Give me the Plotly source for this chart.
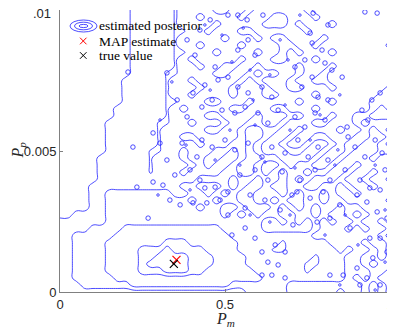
import plotly.graph_objects as go

# Grid of the estimated posterior (P_m along columns, P_p along rows)
pm_grid = [0.0, 0.025, 0.05, 0.075, 0.1, 0.125, 0.15, 0.175, 0.2, 0.225,
           0.25, 0.275, 0.3, 0.325, 0.35, 0.375, 0.4, 0.425, 0.45, 0.475,
           0.5, 0.525, 0.55, 0.575, 0.6, 0.625, 0.65, 0.675, 0.7, 0.725,
           0.75, 0.775, 0.8, 0.825, 0.85, 0.875, 0.9, 0.925, 0.95, 0.975, 1.0]
pp_grid = [0.0, 0.00025, 0.0005, 0.00075, 0.001, 0.00125, 0.0015, 0.00175,
           0.002, 0.00225, 0.0025, 0.00275, 0.003, 0.00325, 0.0035, 0.00375,
           0.004, 0.00425, 0.0045, 0.00475, 0.005, 0.00525, 0.0055, 0.00575,
           0.006, 0.00625, 0.0065, 0.00675, 0.007, 0.00725, 0.0075, 0.00775,
           0.008, 0.00825, 0.0085, 0.00875, 0.009, 0.00925, 0.0095, 0.00975, 0.01]

# Posterior level per cell, rows from P_p = .01 down to 0.
# r = thin ridge just above level 1.5, c = dip just below level 1.5
level_codes = {"0": 0.0, "1": 1.0, "2": 2.0, "3": 3.0, "4": 4.0, "5": 5.0,
               "r": 1.6, "c": 1.3}
posterior_rows = [
    "00000 00001 1111r 11112 21121 11111 21111 11111 1",  # .01
    "00000 00001 1111r 11211 11211 12211 12111 11111 1",
    "00000 00001 1111r 11112 11111 22212 11121 11111 1",
    "00000 00001 1111r r1121 11221 11111 21111 11111 1",
    "00000 00001 1111r 11111 21112 12211 11211 11111 1",
    "00000 00001 1111r 11211 11211 11221 12111 11111 2",
    "00000 00001 1111r r1112 11112 11212 11121 11111 1",
    "00000 00001 1111r 12111 11211 12211 12111 11111 1",
    "00000 00001 1111r 11211 22112 11112 11121 11111 1",
    "00000 00001 111rr 11112 21121 22112 11211 11111 1",
    "00000 00011 111r1 12111 11212 11121 12211 11111 1",
    "00000 00011 111r1 11211 12111 21122 11121 11111 2",
    "00000 00011 111r1 12111 12111 22111 12111 11112 2",
    "00000 00011 111rr 11122 11121 11112 11121 11122 2",
    "00000 00111 111r1 21111 12211 12211 12111 11121 2",
    "00000 00111 111r1 11122 11112 11122 11121 12211 1",
    "00000 01111 11rr1 12111 21122 11211 12211 12122 2",
    "00000 01111 11r11 11122 11211 22112 11112 11212 1",
    "00000 01111 11r11 22111 11211 21121 12211 12211 2",
    "00000 01111 11r11 11211 12212 11211 21121 22112 1",
    "00000 01111 1rr11 21112 21212 11122 11211 21112 2",  # .005
    "00000 11111 1r111 21122 11211 22111 12112 11121 1",
    "00000 11111 1r111 12121 12112 11212 21121 12111 1",
    "00000 11111 1r111 21111 22112 12122 12211 21121 1",
    "00000 11111 11111 11222 21221 22121 21112 11211 2",
    "00001 11111 11111 22111 21211 21122 11221 21121 1",
    "00001 12222 22221 12212 12112 22121 22121 12111 1",
    "00001 12222 22222 21221 22112 21211 22122 11111 2",
    "00001 12222 22222 22122 11211 12121 21221 22111 1",
    "00111 12222 22222 22222 12121 22112 21211 21211 1",
    "11111 12222 22222 22222 22222 11212 12121 12112 1",
    "11112 22233 33333 33333 22222 11111 12111 21211 2",
    "11222 22333 33333 33333 32222 22222 21111 11112 1",
    "11222 23333 33344 43333 33222 22c22 22211 11211 2",
    "11222 23333 44454 44433 33222 2cc22 22221 21121 2",
    "11222 23333 44555 54443 33322 22222 2c222 11221 2",
    "11222 23333 45555 54443 33322 22222 cc222 11212 2",
    "11222 23333 44455 54433 33332 22222 c2222 11122 1",
    "11222 22333 33333 33333 33333 22222 22222 12121 1",
    "11122 22223 33333 33333 32222 22211 11111 11212 1",
    "11111 11111 11111 11111 11122 22211 11112 11212 1",  # 0
]
contour_levels = [0.5, 1.5, 2.5, 3.5, 4.5]

# Small closed contours (sampling-noise islands)
speckle_pm = [
    0.509, 0.539, 0.567, 0.615, 0.767, 0.812, 0.758, 0.570,
    0.539, 0.591, 0.712, 0.742, 0.764, 0.794, 0.803, 0.824,
    0.855, 0.470, 0.479, 0.509, 0.539, 0.570, 0.612, 0.642,
    0.733, 0.764, 0.782, 0.812, 0.430, 0.461, 0.491, 0.530,
    0.561, 0.600, 0.630, 0.661, 0.712, 0.742, 0.773, 0.803,
    0.870, 0.430, 0.461, 0.500, 0.530, 0.570, 0.612, 0.642,
    0.682, 0.721, 0.752, 0.782, 0.812, 0.873, 0.894, 0.924,
    0.955, 0.976, 0.961, 0.924, 0.970, 0.945, 0.915, 0.933,
    0.206, 0.221, 0.282, 0.324, 0.385, 0.355, 0.385, 0.403,
    0.370, 0.415, 0.324, 0.303, 0.424, 0.455, 0.409, 0.439,
    0.282, 0.312, 0.233, 0.348, 0.394, 0.424, 0.333, 0.364,
    0.403, 0.445, 0.485, 0.267,
    0.439, 0.470, 0.509, 0.561, 0.509, 0.521, 0.561, 0.591,
    0.612, 0.652, 0.682, 0.630, 0.661, 0.612, 0.642, 0.682,
    0.718, 0.758, 0.797, 0.848, 0.900, 0.939, 0.970, 0.930,
    0.961, 0.991, 0.706, 0.779, 0.818, 0.879, 0.939, 0.970,
    0.991, 0.948, 0.900, 0.858, 0.930, 0.970, 0.909, 0.818,
    0.545, 0.591, 0.630, 0.673, 0.576, 0.621, 0.667, 0.703,
    0.727, 0.773, 0.818, 0.864, 0.909, 0.985,
]
speckle_pp = [
    0.00982, 0.00982, 0.00965, 0.00982, 0.00989, 0.00947, 0.00918, 0.00894,
    0.00858, 0.00840, 0.00798, 0.00823, 0.00883, 0.00858, 0.00812, 0.00787,
    0.00762, 0.00798, 0.00752, 0.00762, 0.00727, 0.00706, 0.00727, 0.00691,
    0.00727, 0.00762, 0.00691, 0.00681, 0.00656, 0.00681, 0.00645, 0.00635,
    0.00656, 0.00635, 0.00599, 0.00645, 0.00621, 0.00585, 0.00635, 0.00610,
    0.00585, 0.00539, 0.00514, 0.00539, 0.00504, 0.00528, 0.00479, 0.00514,
    0.00493, 0.00539, 0.00479, 0.00514, 0.00468, 0.00550, 0.00514, 0.00479,
    0.00539, 0.00493, 0.00989, 0.00993, 0.00706, 0.00681, 0.00645, 0.00610,
    0.00780, 0.00514, 0.00564, 0.00777, 0.00894, 0.00681, 0.00621, 0.00706,
    0.00528, 0.00479, 0.00468, 0.00528, 0.00929, 0.00965, 0.00840, 0.00734,
    0.00390, 0.00379, 0.00372, 0.00415, 0.00433, 0.00397, 0.00326, 0.00309,
    0.00316, 0.00316, 0.00326, 0.00262,
    0.00369, 0.00372, 0.00355, 0.00298, 0.00273, 0.00202, 0.00227, 0.00191,
    0.00142, 0.00167, 0.00142, 0.00106, 0.00096, 0.00060, 0.00060, 0.00050,
    0.00355, 0.00333, 0.00355, 0.00309, 0.00344, 0.00369, 0.00362, 0.00319,
    0.00284, 0.00262, 0.00238, 0.00248, 0.00262, 0.00227, 0.00191, 0.00191,
    0.00142, 0.00121, 0.00085, 0.00060, 0.00050, 0.00025, 0.00025, 0.00060,
    0.00415, 0.00433, 0.00397, 0.00426, 0.00344, 0.00326, 0.00291, 0.00344,
    0.00397, 0.00433, 0.00397, 0.00433, 0.00397, 0.00433,
]
# tiniest islands
dot_pm = [
    0.439, 0.491, 0.555, 0.667, 0.727, 0.691, 0.636, 0.576,
    0.521, 0.455, 0.585, 0.682, 0.848, 0.788, 0.515, 0.591,
    0.697, 0.758, 0.842, 0.470, 0.545, 0.621, 0.712, 0.833,
    0.955, 0.576, 0.636, 0.697, 0.803, 0.864, 0.985, 0.903,
    0.985, 0.848, 0.955, 0.394, 0.297, 0.339, 0.303, 0.382,
]
dot_pp = [
    0.00947, 0.00911, 0.00936, 0.00894, 0.00982, 0.00823, 0.00770, 0.00787,
    0.00816, 0.00716, 0.00681, 0.00663, 0.00699, 0.00628, 0.00574, 0.00592,
    0.00574, 0.00539, 0.00504, 0.00468, 0.00450, 0.00461, 0.00440, 0.00450,
    0.00450, 0.00273, 0.00248, 0.00273, 0.00202, 0.00273, 0.00291, 0.00167,
    0.00106, 0.00025, 0.00007, 0.00362, 0.00344, 0.00745, 0.00610, 0.00521,
]

map_estimate = (0.353, 0.00114)
true_value = (0.345, 0.00100)

x_tickvals = [0, 0.5, 1]
x_ticktext = ["0", "0.5", "1"]
y_tickvals = [0, 0.005, 0.01]
y_ticktext = ["0", "0.005", ""]   # the top label ".01" is placed as text just below the page edge
y_top_label = ".01"

legend_labels = ["estimated posterior", "MAP estimate", "true value"]

# ---- build grid ----
z = []
for row in reversed(posterior_rows):
    s = row.replace(" ", "")
    assert len(s) == len(pm_grid), (row, len(s))
    z.append([level_codes[c] for c in s])
assert len(z) == len(pp_grid)
assert len(speckle_pm) == len(speckle_pp)
assert len(dot_pm) == len(dot_pp)

BLUE = "#2020ff"
fig = go.Figure()
fig.add_trace(go.Contour(
    x=pm_grid, y=pp_grid, z=z,
    contours=dict(start=contour_levels[0], end=contour_levels[-1],
                  size=contour_levels[1] - contour_levels[0], coloring="lines"),
    colorscale=[[0, BLUE], [1, BLUE]],
    showscale=False,
    line=dict(width=0.8, smoothing=1.3),
    hoverinfo="skip",
))
fig.add_trace(go.Scatter(
    x=speckle_pm, y=speckle_pp, mode="markers",
    marker=dict(symbol="circle-open", size=4.5, color=BLUE, line=dict(color=BLUE, width=0.8)),
    hoverinfo="skip", showlegend=False,
))
fig.add_trace(go.Scatter(
    x=dot_pm, y=dot_pp, mode="markers",
    marker=dict(symbol="circle-open", size=2.5, color=BLUE, line=dict(color=BLUE, width=0.8)),
    hoverinfo="skip", showlegend=False,
))
fig.add_trace(go.Scatter(
    x=[map_estimate[0]], y=[map_estimate[1]], mode="markers",
    marker=dict(symbol="x-thin", size=8, line=dict(color="red", width=1.2)),
    showlegend=False,
))
fig.add_trace(go.Scatter(
    x=[true_value[0]], y=[true_value[1]], mode="markers",
    marker=dict(symbol="x-thin", size=8, line=dict(color="black", width=1.2)),
    showlegend=False,
))

# page body has an 8px margin; plot area on the page: x 60..390, y 10..292
OFF = 8
W, H = 395 - OFF, 331 - OFF
L, R, T, B = 60, 390, 10, 292
def px(x):
    return (x - L) / (R - L)
def py(y):
    return (B - y) / (B - T)

shapes = []
for (rx, ry) in [(13.5, 6), (9, 3.8), (4.5, 1.6)]:
    shapes.append(dict(type="circle", xref="paper", yref="paper",
                       x0=px(83.5 - rx), x1=px(83.5 + rx), y0=py(26 + ry), y1=py(26 - ry),
                       line=dict(color=BLUE, width=0.8)))
for (cy, col) in [(41, "red"), (55.5, "black")]:
    shapes.append(dict(type="line", xref="paper", yref="paper",
                       x0=px(80), x1=px(86.5), y0=py(cy - 3.3), y1=py(cy + 3.3),
                       line=dict(color=col, width=1)))
    shapes.append(dict(type="line", xref="paper", yref="paper",
                       x0=px(80), x1=px(86.5), y0=py(cy + 3.3), y1=py(cy - 3.3),
                       line=dict(color=col, width=1)))

TICKFONT = dict(family="Liberation Sans", size=13, color="#262626")
annotations = []
for label, cy in zip(legend_labels, [26, 41, 55.5]):
    annotations.append(dict(text=label, xref="paper", yref="paper",
                            x=px(96.5), y=py(cy), xanchor="left", yanchor="middle",
                            showarrow=False,
                            font=dict(family="Liberation Serif", size=13.5, color="black")))
annotations.append(dict(text=y_top_label, xref="paper", yref="paper",
                        x=px(53), y=py(13.5), xanchor="right", yanchor="middle",
                        showarrow=False, font=TICKFONT))
annotations.append(dict(text="<i>P</i><sub><i>m</i></sub>", xref="paper", yref="paper",
                        x=px(225), y=py(319.5), xanchor="center", yanchor="middle",
                        showarrow=False,
                        font=dict(family="Liberation Serif", size=16, color="#262626")))
annotations.append(dict(text="<i>P</i><sub><i>p</i></sub>", xref="paper", yref="paper",
                        x=px(17.5), y=py(150), xanchor="center", yanchor="middle",
                        textangle=-90, showarrow=False,
                        font=dict(family="Liberation Serif", size=16, color="#262626")))

axis_common = dict(
    showgrid=False, zeroline=False, showline=True, linecolor="#808080", linewidth=1,
    ticks="inside", ticklen=3, tickcolor="#808080", mirror=False, automargin=False,
    ticklabeloverflow="allow", tickfont=TICKFONT,
)
fig.update_layout(
    width=W, height=H,
    margin=dict(l=L - OFF, r=395 - R, t=T - OFF, b=331 - B),
    paper_bgcolor="white", plot_bgcolor="white",
    showlegend=False,
    xaxis=dict(range=[0, 1], tickvals=x_tickvals, ticktext=x_ticktext, **axis_common),
    yaxis=dict(range=[0, 0.01], tickvals=y_tickvals, ticktext=y_ticktext, **axis_common),
    shapes=shapes, annotations=annotations,
)
fig.write_html("out.html")
